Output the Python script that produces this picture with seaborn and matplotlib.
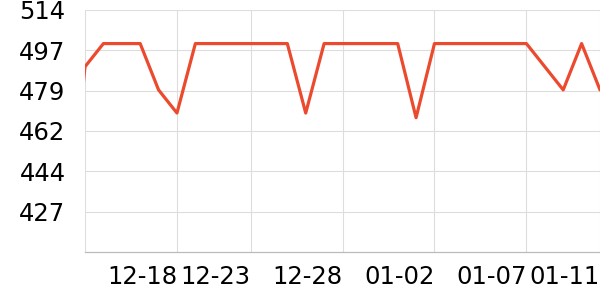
import numpy as np
import pandas as pd
import matplotlib
matplotlib.use("Agg")
import matplotlib.pyplot as plt
import seaborn as sns

dates = ["12-12", "12-13", "12-14", "12-15", "12-16", "12-17", "12-18", "12-19",
         "12-21", "12-22", "12-23", "12-24", "12-25", "12-26", "12-27", "12-28",
         "12-29", "12-30", "12-31", "01-01", "01-02", "01-03", "01-04", "01-05",
         "01-06", "01-07", "01-08", "01-09", "01-10", "01-11"]
values = [412, 490, 500, 500, 500, 480, 470, 500, 500, 500,
          500, 500, 500, 470, 500, 500, 500, 500, 500, 468,
          500, 500, 500, 500, 500, 500, 490, 480, 500, 480]
tick_dates = ["12-13", "12-18", "12-23", "12-28", "01-02", "01-07", "01-11"]
tick_labels = ["", "12-18", "12-23", "12-28", "01-02", "01-07", "01-11"]
ytick_values = [410, 427.42, 444.83, 462.25, 479.67, 497.08, 514.5]

sns.set_theme(style="whitegrid")
plt.rcParams["font.family"] = ["DejaVu Sans"]

df = pd.DataFrame({"pos": np.arange(len(dates)) - 1, "date": dates, "value": values})

fig = plt.figure(figsize=(6, 3), dpi=100)
ax = fig.add_axes([85 / 600, 48 / 300, 515 / 600, 242 / 300])
sns.lineplot(data=df, x="pos", y="value", ax=ax, color="#eb4a2e", linewidth=2.3)

ax.set_xlim(0, len(dates) - 2)
ax.set_ylim(ytick_values[0], ytick_values[-1])

pos_of = dict(zip(dates, df["pos"]))
ax.set_xticks([pos_of[d] for d in tick_dates])
ax.set_xticklabels(tick_labels, ha="right")
ax.set_yticks(ytick_values[1:])
ax.set_yticklabels([str(int(v)) for v in ytick_values[1:]])

ax.set_xlabel("")
ax.set_ylabel("")
ax.grid(True, color="#dddddd", linewidth=0.8)
for s in ["top", "right", "left"]:
    ax.spines[s].set_visible(False)
ax.spines["bottom"].set_color("#bbbbbb")
ax.spines["bottom"].set_linewidth(0.9)
ax.tick_params(axis="x", length=3, color="#bbbbbb", pad=6.5, labelsize=17.5, labelcolor="black")
ax.tick_params(axis="y", length=2, color="#dddddd", pad=12, labelsize=17.5, labelcolor="black")

fig.savefig("out.png", dpi=100)
